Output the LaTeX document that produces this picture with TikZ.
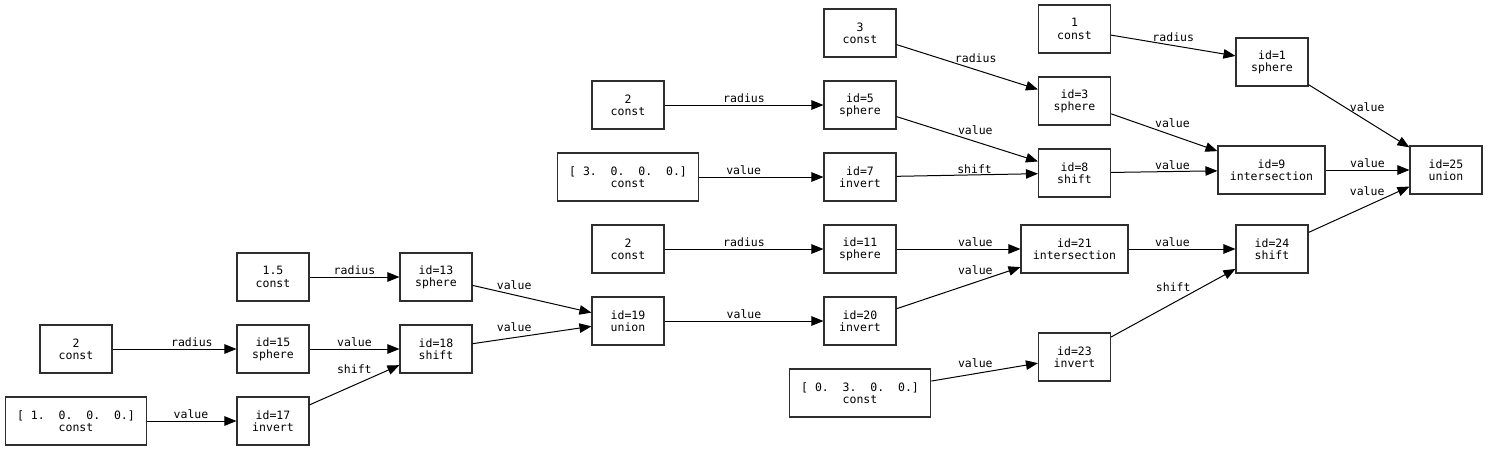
\documentclass[tikz,border=0pt]{standalone}
\usepackage{fontspec}
\setmonofont{DejaVu Sans Mono}
\usetikzlibrary{arrows.meta}
\begin{document}
\begin{tikzpicture}[x=1pt,y=-1pt,
  txt/.style={font=\fontsize{11.5}{12.3}\selectfont\ttfamily},
  box/.style={txt,draw=black!82,line width=1.1pt,minimum width=72pt,minimum height=48pt,inner sep=0pt,align=center},
  wbox/.style={box,minimum width=107pt},
  vbox/.style={box,minimum width=141.5pt},
  e/.style={draw,line width=1pt,-{Triangle[length=12pt,width=9.5pt]}},
  lab/.style={txt,inner sep=0pt,anchor=center}]
\useasboundingbox (0,0) rectangle (1488,451);
% nodes
\node[box]  (c1)  at (1074.5,29)  {1\\const};
\node[box]  (s1)  at (1272,62)    {id=1\\sphere};
\node[box]  (c3)  at (860,33)     {3\\const};
\node[box]  (s3)  at (1074.5,101) {id=3\\sphere};
\node[box]  (c2a) at (628,105)    {2\\const};
\node[box]  (s5)  at (860,105)    {id=5\\sphere};
\node[vbox] (c7)  at (628,177)    {[ 3.\ \ 0.\ \ 0.\ \ 0.]\\const};
\node[box]  (i7)  at (860,177)    {id=7\\invert};
\node[box]  (sh8) at (1074.5,173) {id=8\\shift};
\node[wbox] (i9)  at (1271.5,170) {id=9\\intersection};
\node[box]  (u25) at (1446,170)   {id=25\\union};
\node[box]  (c2b) at (628,249)    {2\\const};
\node[box]  (s11) at (860,249)    {id=11\\sphere};
\node[wbox] (i21) at (1074.5,249) {id=21\\intersection};
\node[box]  (sh24) at (1272,249)  {id=24\\shift};
\node[box]  (u19) at (628,321)    {id=19\\union};
\node[box]  (i20) at (860,321)    {id=20\\invert};
\node[box]  (i23) at (1074.5,357) {id=23\\invert};
\node[vbox] (c23) at (860,393)    {[ 0.\ \ 3.\ \ 0.\ \ 0.]\\const};
\node[box]  (c15) at (273,277)    {1.5\\const};
\node[box]  (s13) at (436,277)    {id=13\\sphere};
\node[box]  (c2c) at (76,349)     {2\\const};
\node[box]  (s15) at (273,349)    {id=15\\sphere};
\node[box]  (sh18) at (436,349)   {id=18\\shift};
\node[vbox] (c17) at (76,421)     {[ 1.\ \ 0.\ \ 0.\ \ 0.]\\const};
\node[box]  (i17) at (273,421)    {id=17\\invert};
% edges
\draw[e] (c1) -- node[lab,pos=0.5,yshift=8.5pt]{radius} (s1);
\draw[e] (c3) -- node[lab,pos=0.56,yshift=11.7pt]{radius} (s3);
\draw[e] (c2a) -- node[lab,pos=0.5,yshift=7pt]{radius} (s5);
\draw[e] (s5) -- node[lab,pos=0.557,yshift=11.6pt]{value} (sh8);
\draw[e] (c7) -- node[lab,pos=0.357,yshift=6.7pt]{value} (i7);
\draw[e] (i7) -- node[lab,pos=0.552,yshift=6.1pt]{shift} (sh8);
\draw[e] (s3) -- node[lab,pos=0.577,yshift=12pt]{value} (i9);
\draw[e] (sh8) -- node[lab,pos=0.577,yshift=6.5pt]{value} (i9);
\draw[e] (s1) -- node[lab,pos=0.581,yshift=13.8pt]{value} (u25);
\draw[e] (i9) -- node[lab,pos=0.5,yshift=6.7pt]{value} (u25);
\draw[e] (sh24) -- node[lab,pos=0.581,yshift=14.7pt]{value} (u25);
\draw[e] (c2b) -- node[lab,pos=0.5,yshift=7pt]{radius} (s11);
\draw[e] (s11) -- node[lab,pos=0.636,yshift=7pt]{value} (i21);
\draw[e] (i20) -- node[lab,pos=0.636,yshift=12pt]{value} (i21);
\draw[e] (i21) -- node[lab,pos=0.41,yshift=7pt]{value} (sh24);
\draw[e] (i23) -- node[lab,pos=0.5,yshift=16pt]{shift} (sh24);
\draw[e] (u19) -- node[lab,pos=0.5,yshift=6.7pt]{value} (i20);
\draw[e] (c23) -- node[lab,pos=0.413,yshift=10.6pt]{value} (i23);
\draw[e] (c15) -- node[lab,pos=0.5,yshift=7pt]{radius} (s13);
\draw[e] (s13) -- node[lab,pos=0.35,yshift=9.6pt]{value} (u19);
\draw[e] (sh18) -- node[lab,pos=0.35,yshift=10.3pt]{value} (u19);
\draw[e] (c2c) -- node[lab,pos=0.64,yshift=7pt]{radius} (s15);
\draw[e] (s15) -- node[lab,pos=0.5,yshift=7pt]{value} (sh18);
\draw[e] (i17) -- node[lab,pos=0.498,yshift=16.1pt]{shift} (sh18);
\draw[e] (c17) -- node[lab,pos=0.49,yshift=6.7pt]{value} (i17);
\end{tikzpicture}
\end{document}
